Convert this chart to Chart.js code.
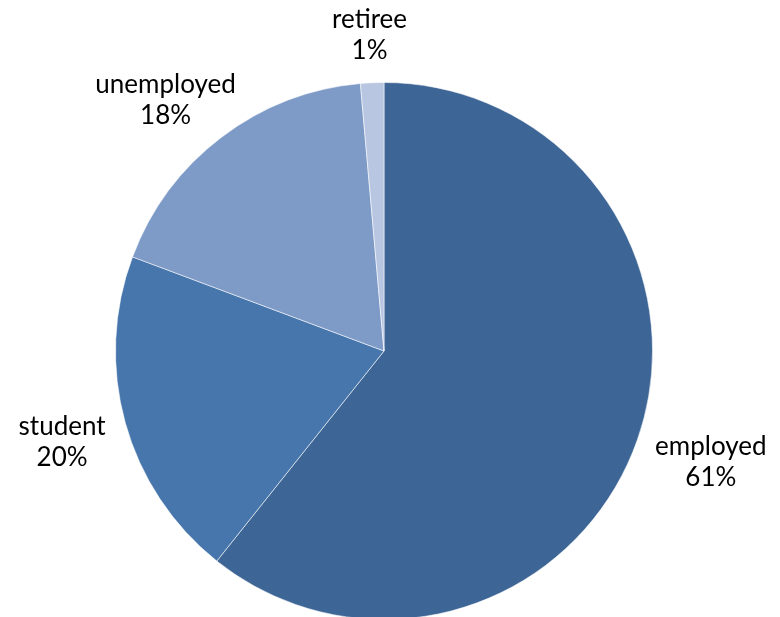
<!DOCTYPE html>
<html>
<head>
<meta charset="utf-8">
<script src="https://cdn.jsdelivr.net/npm/chart.js@4.4.1/dist/chart.umd.min.js"></script>
<style>
  html, body { margin: 0; padding: 0; background: #fff; overflow: hidden; }
  #wrap { position: relative; width: 780px; height: 617px; overflow: hidden; }
  #pie { position: absolute; left: 0; top: 0; }
</style>
</head>
<body>
<div id="wrap">
  <canvas id="pie" width="780" height="700"></canvas>
</div>
<script>
const categories = ['employed', 'student', 'unemployed', 'retiree'];
const shares = [60.7, 20.0, 17.9, 1.4];
const sliceColors = ['#3d6595', '#4776ad', '#7e9bc7', '#b8c6e2'];

const labelFont = '26px Lato';
const lineHeight = 31;
const labelGap = 22;
const labelDrop = 5;

// puts "name / xx%" outside each slice, pushed out along the slice's middle
const outsideLabels = {
    id: 'outsideLabels',
    afterDraw(chart) {
        const ctx = chart.ctx;
        const meta = chart.getDatasetMeta(0);
        const total = shares.reduce((a, b) => a + b, 0);
        ctx.save();
        ctx.font = labelFont;
        ctx.fillStyle = '#000';
        ctx.textAlign = 'center';
        ctx.textBaseline = 'middle';
        meta.data.forEach((arc, i) => {
            const mid = (arc.startAngle + arc.endAngle) / 2;
            const cx = Math.cos(mid);
            const cy = Math.sin(mid);
            const lines = [categories[i], Math.round(shares[i] / total * 100) + '%'];
            const w = Math.max(...lines.map(t => ctx.measureText(t).width));
            const h = lines.length * lineHeight;
            const r = arc.outerRadius + labelGap;
            const x = arc.x + r * cx + cx * w / 2;
            const y = arc.y + r * cy + cy * h / 2 + labelDrop;
            lines.forEach((t, k) => {
                ctx.fillText(t, x, y - h / 2 + lineHeight * (k + 0.5));
            });
        });
        ctx.restore();
    }
};

const chart = new Chart(document.getElementById('pie'), {
    type: 'pie',
    data: {
        labels: categories,
        datasets: [{
            data: shares,
            backgroundColor: sliceColors,
            borderColor: 'rgba(255,255,255,0.55)',
            borderWidth: 1
        }]
    },
    options: {
        responsive: false,
        animation: false,
        layout: { padding: { top: 82, bottom: 80, left: 115, right: 127 } },
        plugins: {
            legend: { display: false },
            tooltip: { enabled: false }
        }
    },
    plugins: [outsideLabels]
});
</script>
</body>
</html>
